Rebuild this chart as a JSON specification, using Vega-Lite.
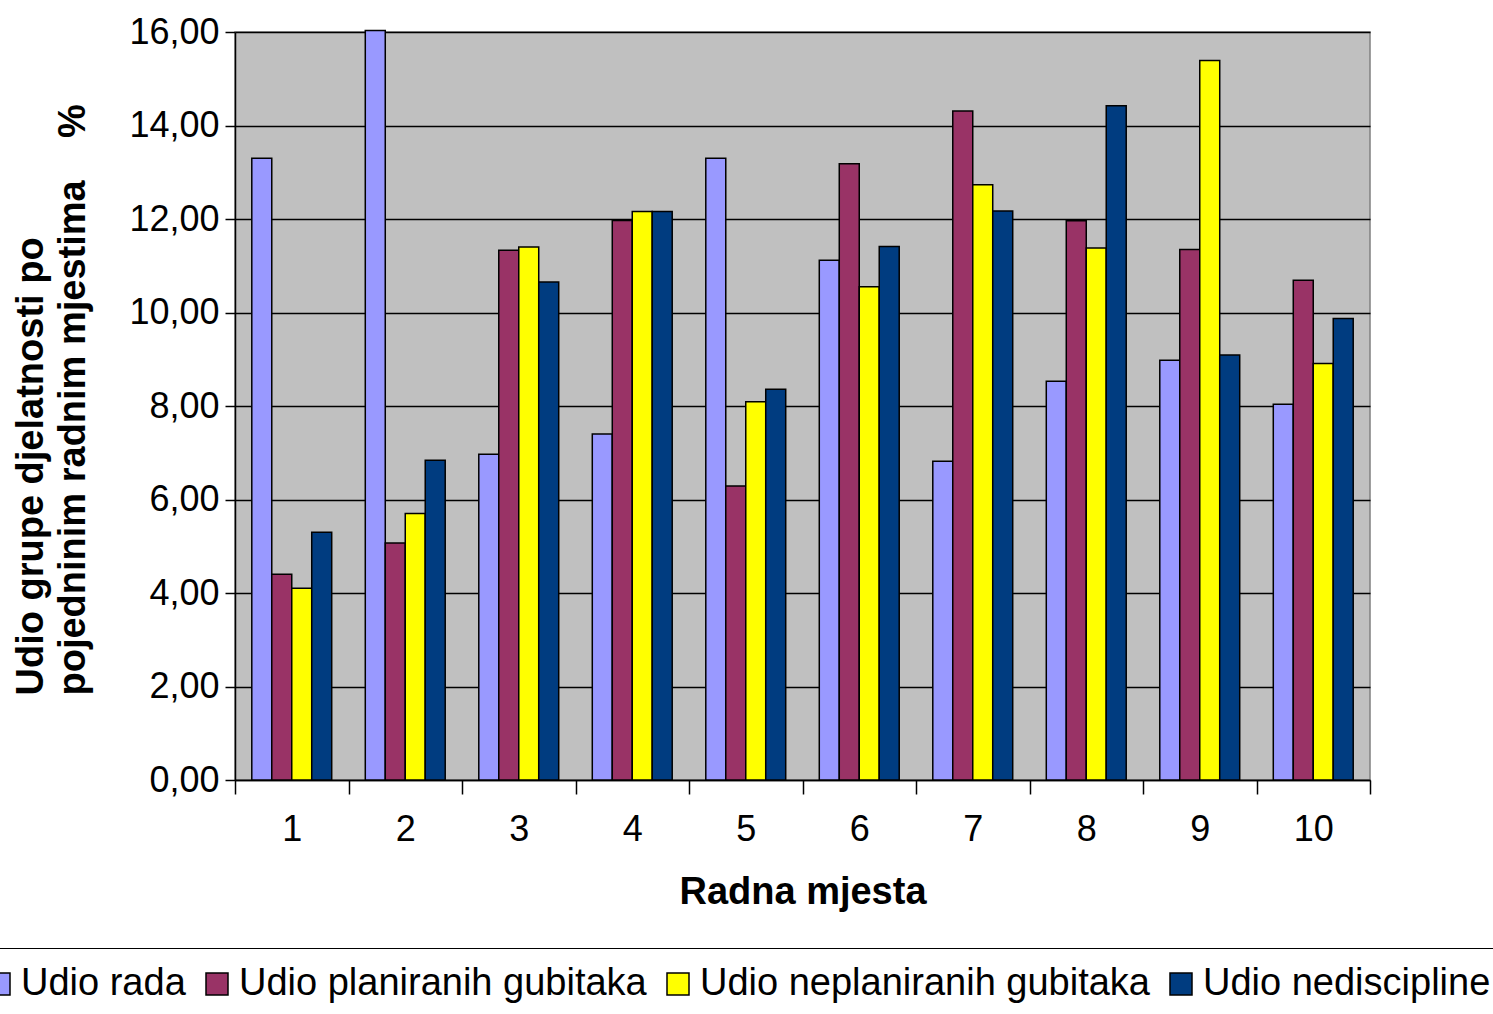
{
  "$schema": "https://vega.github.io/schema/vega-lite/v6.json",
  "width": 1135,
  "height": 748,
  "autosize": "none",
  "padding": {"left": 235, "top": 32, "right": 123, "bottom": 234},
  "background": "white",
  "config": {
    "font": "Liberation Sans",
    "view": {"fill": "#C0C0C0", "stroke": "#808080", "strokeWidth": 1.5}
  },
  "data": {
    "values": [
      {"mjesto": "1", "serija": "Udio rada", "v": 13.3},
      {"mjesto": "1", "serija": "Udio planiranih gubitaka", "v": 4.4},
      {"mjesto": "1", "serija": "Udio neplaniranih gubitaka", "v": 4.1},
      {"mjesto": "1", "serija": "Udio nediscipline", "v": 5.3},
      {"mjesto": "2", "serija": "Udio rada", "v": 16.03},
      {"mjesto": "2", "serija": "Udio planiranih gubitaka", "v": 5.07},
      {"mjesto": "2", "serija": "Udio neplaniranih gubitaka", "v": 5.7},
      {"mjesto": "2", "serija": "Udio nediscipline", "v": 6.84},
      {"mjesto": "3", "serija": "Udio rada", "v": 6.97},
      {"mjesto": "3", "serija": "Udio planiranih gubitaka", "v": 11.33},
      {"mjesto": "3", "serija": "Udio neplaniranih gubitaka", "v": 11.4},
      {"mjesto": "3", "serija": "Udio nediscipline", "v": 10.65},
      {"mjesto": "4", "serija": "Udio rada", "v": 7.4},
      {"mjesto": "4", "serija": "Udio planiranih gubitaka", "v": 11.97},
      {"mjesto": "4", "serija": "Udio neplaniranih gubitaka", "v": 12.16},
      {"mjesto": "4", "serija": "Udio nediscipline", "v": 12.16},
      {"mjesto": "5", "serija": "Udio rada", "v": 13.3},
      {"mjesto": "5", "serija": "Udio planiranih gubitaka", "v": 6.29},
      {"mjesto": "5", "serija": "Udio neplaniranih gubitaka", "v": 8.09},
      {"mjesto": "5", "serija": "Udio nediscipline", "v": 8.36},
      {"mjesto": "6", "serija": "Udio rada", "v": 11.12},
      {"mjesto": "6", "serija": "Udio planiranih gubitaka", "v": 13.18},
      {"mjesto": "6", "serija": "Udio neplaniranih gubitaka", "v": 10.55},
      {"mjesto": "6", "serija": "Udio nediscipline", "v": 11.41},
      {"mjesto": "7", "serija": "Udio rada", "v": 6.82},
      {"mjesto": "7", "serija": "Udio planiranih gubitaka", "v": 14.31},
      {"mjesto": "7", "serija": "Udio neplaniranih gubitaka", "v": 12.73},
      {"mjesto": "7", "serija": "Udio nediscipline", "v": 12.17},
      {"mjesto": "8", "serija": "Udio rada", "v": 8.53},
      {"mjesto": "8", "serija": "Udio planiranih gubitaka", "v": 11.96},
      {"mjesto": "8", "serija": "Udio neplaniranih gubitaka", "v": 11.38},
      {"mjesto": "8", "serija": "Udio nediscipline", "v": 14.42},
      {"mjesto": "9", "serija": "Udio rada", "v": 8.98},
      {"mjesto": "9", "serija": "Udio planiranih gubitaka", "v": 11.35},
      {"mjesto": "9", "serija": "Udio neplaniranih gubitaka", "v": 15.39},
      {"mjesto": "9", "serija": "Udio nediscipline", "v": 9.09},
      {"mjesto": "10", "serija": "Udio rada", "v": 8.04},
      {"mjesto": "10", "serija": "Udio planiranih gubitaka", "v": 10.69},
      {"mjesto": "10", "serija": "Udio neplaniranih gubitaka", "v": 8.91},
      {"mjesto": "10", "serija": "Udio nediscipline", "v": 9.87}
    ]
  },
  "mark": {"type": "bar", "stroke": "#000000", "strokeWidth": 1.5},
  "encoding": {
    "x": {
      "field": "mjesto",
      "type": "ordinal",
      "sort": ["1","2","3","4","5","6","7","8","9","10"],
      "scale": {"paddingInner": 0, "paddingOuter": 0},
      "axis": {
        "title": "Radna mjesta",
        "titleFont": "Liberation Sans",
        "titleFontSize": 38,
        "titleFontWeight": "bold",
        "titleColor": "#000",
        "titleY": 112,
        "titleBaseline": "middle",
        "labelAngle": 0,
        "labelFontSize": 36,
        "labelColor": "#000",
        "labelPadding": 18,
        "tickBand": "extent",
        "tickSize": 14,
        "tickColor": "#000",
        "tickWidth": 1.5,
        "domainColor": "#000",
        "domainWidth": 1.5,
        "grid": false
      }
    },
    "xOffset": {
      "field": "serija",
      "type": "nominal",
      "sort": ["Udio rada", "Udio planiranih gubitaka", "Udio neplaniranih gubitaka", "Udio nediscipline"],
      "scale": {"paddingInner": 0, "paddingOuter": 0.84}
    },
    "y": {
      "field": "v",
      "type": "quantitative",
      "scale": {"domain": [0, 16], "nice": false},
      "axis": {
        "values": [0, 2, 4, 6, 8, 10, 12, 14, 16],
        "labelExpr": "replace(format(datum.value, '.2f'), '.', ',')",
        "labelFontSize": 36,
        "labelColor": "#000",
        "labelPadding": 6,
        "tickSize": 10,
        "tickColor": "#000",
        "tickWidth": 1.5,
        "domainColor": "#000",
        "domainWidth": 1.5,
        "gridColor": "#000",
        "gridWidth": 1.5,
        "title": ["Udio grupe djelatnosti po", "pojedninim radnim mjestima\u00a0\u00a0\u00a0\u00a0%"],
        "titleFontSize": 38,
        "titleFontWeight": "bold",
        "titleColor": "#000",
        "titleAngle": -90,
        "titleAnchor": "start",
        "titleAlign": "left",
        "titleBaseline": "bottom",
        "titleLineHeight": 42,
        "titleX": -185,
        "titleY": 663
      }
    },
    "color": {
      "field": "serija",
      "type": "nominal",
      "scale": {
        "domain": ["Udio rada", "Udio planiranih gubitaka", "Udio neplaniranih gubitaka", "Udio nediscipline"],
        "range": ["#9999FF", "#993366", "#FFFF00", "#003C80"]
      },
      "legend": {
        "title": null,
        "orient": "none",
        "direction": "horizontal",
        "legendX": -272,
        "legendY": 916,
        "padding": 17,
        "strokeColor": "#000",
        "symbolType": "square",
        "symbolSize": 484,
        "symbolStrokeColor": "#000",
        "symbolStrokeWidth": 1.5,
        "labelFontSize": 38,
        "labelColor": "#000",
        "labelOffset": 3,
        "columnPadding": 12,
        "labelLimit": 600
      }
    }
  }
}
